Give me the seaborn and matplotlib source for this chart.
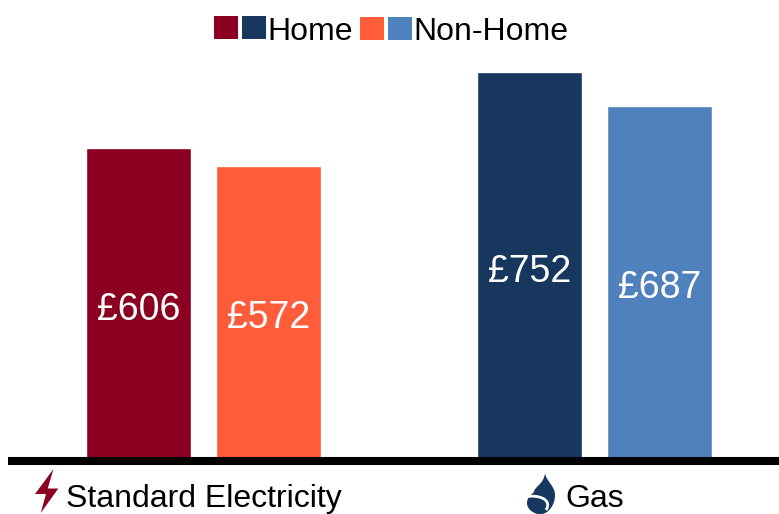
import matplotlib
matplotlib.use('Agg')
import matplotlib.pyplot as plt
from matplotlib.patches import PathPatch, Rectangle
from matplotlib.path import Path
from matplotlib.transforms import Affine2D
import pandas as pd
import seaborn as sns

# Datos del grafico
categorias = ['Standard Electricity', 'Gas']
grupos = ['Home', 'Non-Home']
home = [606, 752]
non_home = [572, 687]
etiquetas_home = ['£606', '£752']
etiquetas_non_home = ['£572', '£687']
colores_home = ['#8b0020', '#17375e']
colores_non_home = ['#ff5c39', '#4f81bd']

sns.set_theme(style='white')
plt.rcParams['font.family'] = ['Liberation Sans', 'DejaVu Sans']

df = pd.DataFrame({
    'categoria': categorias * 2,
    'grupo': [grupos[0]] * 2 + [grupos[1]] * 2,
    'valor': home + non_home,
})

fig = plt.figure(figsize=(7.79, 5.14), dpi=100)
ax = fig.add_axes([8 / 779, (514 - 461) / 514, 771 / 779, 412.9 / 514])

sns.barplot(data=df, x='categoria', y='valor', hue='grupo', order=categorias,
            hue_order=grupos, width=0.665, gap=0.187, errorbar=None,
            legend=False, ax=ax)

ax.set_xlim(-0.5, 1.472)
ax.set_ylim(6, 798)
ax.set_xlabel('')
ax.set_ylabel('')
ax.set_yticks([])
ax.tick_params(axis='x', length=0, pad=16.5, labelsize=23, labelcolor='black')

for s in ['top', 'left', 'right']:
    ax.spines[s].set_visible(False)
ax.spines['bottom'].set_color('black')
ax.spines['bottom'].set_linewidth(5.8)
ax.spines['bottom'].set_capstyle('butt')
ax.spines['bottom'].set_zorder(5)

# Colores y etiquetas de cada barra
series = [(colores_home, etiquetas_home), (colores_non_home, etiquetas_non_home)]
for contenedor, (colores, etiquetas) in zip(ax.containers, series):
    for barra, color in zip(contenedor, colores):
        barra.set_facecolor(color)
    textos = ax.bar_label(contenedor, labels=etiquetas, label_type='center', color='white',
                          fontsize=27)
    # Un poco mas abajo que el centro de la barra
    for t in textos:
        t.xyann = (0, -3.6)

# Coordenadas en pixeles de la imagen, con origen arriba a la izquierda
px = Affine2D().scale(1 / 779, -1 / 514).translate(0, 1) + fig.transFigure

# Leyenda
for x, y, color in [(214, 16, colores_home[0]), (242, 16, colores_home[1]),
                    (360, 17, colores_non_home[0]), (388, 17, colores_non_home[1])]:
    fig.add_artist(Rectangle((x, y), 24, 23, facecolor=color, edgecolor='none', transform=px))
fig.text(267 / 779, 1 - 28 / 514, grupos[0], fontsize=23, color='black', va='center_baseline')
fig.text(413 / 779, 1 - 28 / 514, grupos[1], fontsize=23, color='black', va='center_baseline')

# Iconos
rayo = Path([(53.5, 469), (35, 494), (46, 494), (40.7, 513), (58.3, 488.5), (47.7, 488.5),
             (53.5, 469), (53.5, 469)],
            [Path.MOVETO] + [Path.LINETO] * 6 + [Path.CLOSEPOLY])
fig.add_artist(PathPatch(rayo, facecolor=colores_home[0], edgecolor='none', transform=px))

C = Path.CURVE4
llama = Path([(545, 473), (546, 481), (555, 486), (555, 495), (555, 505), (549, 513), (541, 514.5),
              (533, 514), (527, 509), (527, 503), (527, 497), (531, 495), (534, 492),
              (534, 487), (544, 484), (545, 473), (545, 473)],
             [Path.MOVETO] + [C] * 15 + [Path.CLOSEPOLY])
fig.add_artist(PathPatch(llama, facecolor=colores_home[1], edgecolor='none', transform=px))
curva = Path([(525, 497), (537, 494), (553, 499), (546, 510)], [Path.MOVETO, C, C, C])
fig.add_artist(PathPatch(curva, facecolor='none', edgecolor='white', linewidth=2, transform=px))

plt.savefig('out.png', dpi=100)
